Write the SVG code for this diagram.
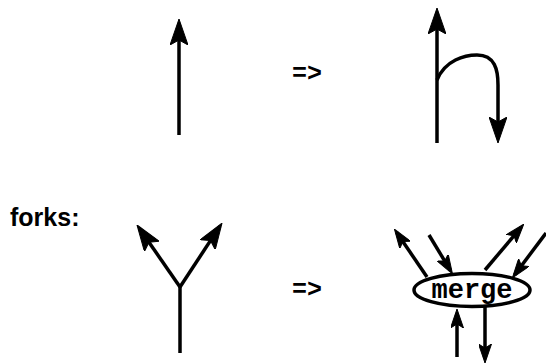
<svg xmlns="http://www.w3.org/2000/svg" width="546" height="363" viewBox="0 0 546 363">
<style>
.ln{fill:none;stroke:#000;stroke-width:3.5;stroke-linecap:butt;stroke-linejoin:round}
.big{marker-end:url(#ha)}
.sm{marker-end:url(#hb)}
.op{font-family:"Liberation Mono",monospace;font-weight:bold;font-size:25px;fill:#000}
.lbl{font-family:"Liberation Sans",Arial,sans-serif;font-weight:bold;font-size:25px;fill:#000}
</style>
<defs>
<marker id="ha" markerUnits="userSpaceOnUse" markerWidth="26" markerHeight="18" viewBox="0 0 26 18" refX="22" refY="9" orient="auto">
<path d="M26,9 L0,0 L5,9 L0,18 z" fill="#000" stroke="#000" stroke-width="1" stroke-linejoin="round"/>
</marker>
<marker id="hb" markerUnits="userSpaceOnUse" markerWidth="19" markerHeight="13" viewBox="0 0 19 13" refX="15" refY="6.5" orient="auto">
<path d="M19,6.5 L0,0 L4,6.5 L0,13 z" fill="#000" stroke="#000" stroke-width="1" stroke-linejoin="round"/>
</marker>
</defs>
<g id="connectors">
<path id="single" class="ln big" d="M179,135 L179,23"/>
<path id="loop-up" class="ln big" d="M437,143 L437,12"/>
<path id="loop-back" class="ln big" d="M437,80 C445,60 465,55 477,55 C495,55 498,70 498,85 L498,139"/>
<path id="fork-stem" class="ln" d="M180,353 L180,287"/>
<path id="fork-left" class="ln big" d="M180,287 L139.3,228.3"/>
<path id="fork-right" class="ln big" d="M180,287 L219.8,226.4"/>
<path id="m1" class="ln sm" d="M427,277 L396.7,232.5"/>
<path id="m2" class="ln sm" d="M429,235 L450.4,270.4"/>
<path id="m3" class="ln sm" d="M485,270 L521.1,227.3"/>
<path id="m4" class="ln sm" d="M546,233 L514.8,274.6"/>
<path id="m5" class="ln sm" d="M457,357 L457,313"/>
<path id="m6" class="ln sm" d="M485,305 L485,359"/>
</g>
<g id="arrow1"><text class="op" x="292" y="81">=&gt;</text></g>
<g id="arrow2"><text class="op" x="292" y="297">=&gt;</text></g>
<g id="forks-label"><text class="lbl" x="10" y="226">forks:</text></g>
<g id="merge">
<ellipse cx="472" cy="290" rx="58" ry="16.5" fill="#fff" stroke="#000" stroke-width="3.5"/>
<text class="op" x="472" y="298" text-anchor="middle" style="font-size:27px">merge</text>
</g>
</svg>
